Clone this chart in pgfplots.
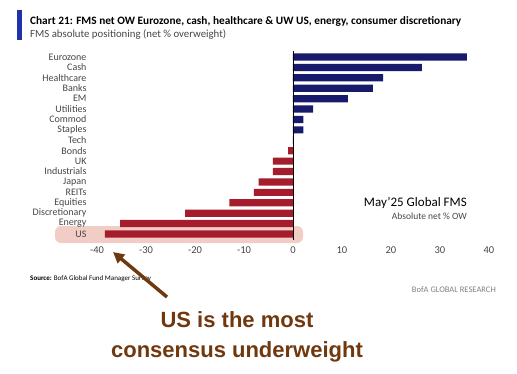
\documentclass[border=0pt]{standalone}
\usepackage{pgfplots}
\pgfplotsset{compat=1.18}
\usetikzlibrary{arrows.meta}
\usepackage{fontspec}
\setmainfont{Carlito}
\newfontfamily\arialf{Liberation Sans}
\definecolor{navybar}{RGB}{24,26,108}
\definecolor{redbar}{RGB}{165,28,45}
\definecolor{hlpink}{RGB}{242,205,198}
\definecolor{titleblue}{RGB}{30,50,170}
\definecolor{brownann}{RGB}{112,56,14}
\definecolor{txtgray}{RGB}{70,70,70}
\begin{document}
\begin{tikzpicture}
\useasboundingbox (0pt,0pt) rectangle (517pt,-373pt);
% title block
\fill[titleblue] (17pt,-10pt) rectangle (22pt,-40pt);
\node[anchor=base west, inner sep=0pt, font=\bfseries\fontsize{11.3}{13}\selectfont] at (30pt,-24pt) {Chart 21: FMS net OW Eurozone, cash, healthcare \& UW US, energy, consumer discretionary};
\node[anchor=base west, inner sep=0pt, text=txtgray, font=\fontsize{10.8}{12}\selectfont] at (30pt,-37.5pt) {FMS absolute positioning (net \% overweight)};
% highlight
\fill[hlpink, rounded corners=6pt] (55pt,-226pt) rectangle (303pt,-243pt);
\begin{axis}[
  at={(97pt,-51.8pt)}, anchor=north west,
  scale only axis, width=392pt, height=187.4pt,
  xmin=-40, xmax=40, ymin=-0.5, ymax=17.5,
  y dir=reverse,
  axis line style={draw=none},
  clip=false,
  xbar, bar width=7.2pt,
  major tick length=0pt,
  xtick={-40,-30,...,40},
  ytick={0,...,17},
  yticklabels={Eurozone,Cash,Healthcare,Banks,EM,Utilities,Commod,Staples,Tech,Bonds,UK,Industrials,Japan,REITs,Equities,Discretionary,Energy,US},
  /pgf/number format/assume math mode=true,
  xticklabel style={font=\fontsize{10.5}{11}\selectfont, text=txtgray, yshift=-4pt},
  yticklabel style={font=\fontsize{10}{10}\selectfont, text=txtgray, xshift=-7pt},
]
\addplot[fill=navybar, draw=none, bar shift=0pt] coordinates {
  (35.5,0) (26.3,1) (18.4,2) (16.3,3) (11.2,4) (4.1,5) (2.1,6) (2.1,7) (0,8)
};
\addplot[fill=redbar, draw=none, bar shift=0pt] coordinates {
  (-1.0,9) (-4.1,10) (-4.1,11) (-7.0,12) (-8.0,13) (-13.0,14) (-22.0,15) (-35.3,16) (-38.4,17)
};
\draw[black, line width=0.9pt] (axis cs:0,-0.55) -- (axis cs:0,17.55);
\end{axis}
% right annotations
\node[anchor=base east, inner sep=0pt, font=\fontsize{13}{14}\selectfont] at (467pt,-206pt) {May'25 Global FMS};
\node[anchor=base east, inner sep=0pt, text=txtgray, font=\fontsize{9.5}{10}\selectfont] at (467pt,-219pt) {Absolute net \% OW};
% source
\node[anchor=base west, inner sep=0pt, font=\fontsize{7}{8}\selectfont] at (30pt,-280pt) {\textbf{Source:} BofA Global Fund Manager Survey};
\node[anchor=base east, inner sep=0pt, text=gray, font=\fontsize{8.5}{9}\selectfont] at (496pt,-292pt) {BofA GLOBAL RESEARCH};
% arrow and big text
\draw[brownann, line width=3.5pt, -{Triangle[width=11pt,length=11pt]}] (167pt,-297pt) -- (113pt,-252pt);
\node[anchor=center, inner sep=0pt, text=brownann, font=\arialf\bfseries\fontsize{22}{26}\selectfont] at (237pt,-320pt) {US is the most};
\node[anchor=center, inner sep=0pt, text=brownann, font=\arialf\bfseries\fontsize{22}{26}\selectfont] at (237pt,-352pt) {consensus underweight};
\end{tikzpicture}
\end{document}
